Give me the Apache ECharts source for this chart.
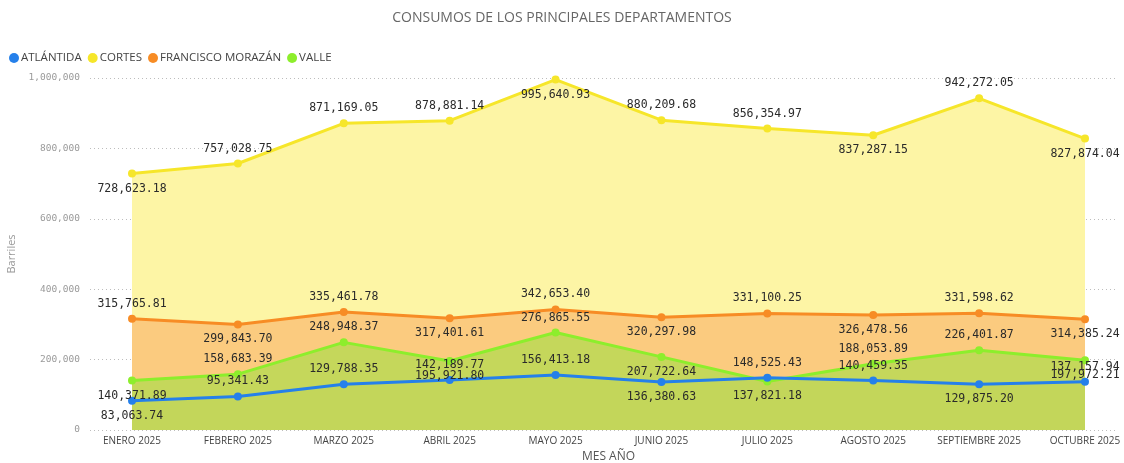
<!DOCTYPE html>
<html>
<head>
<meta charset="utf-8">
<script src="https://cdn.jsdelivr.net/npm/echarts@6/dist/echarts.min.js"></script>
<style>html,body{margin:0;padding:0;background:#fff;}#c{width:1124px;height:463px;}</style>
</head>
<body>
<div id="c"></div>
<script>
const months = ["ENERO 2025","FEBRERO 2025","MARZO 2025","ABRIL 2025","MAYO 2025","JUNIO 2025","JULIO 2025","AGOSTO 2025","SEPTIEMBRE 2025","OCTUBRE 2025"];
const atlantida = [83063.74, 95341.43, 129788.35, 142189.77, 156413.18, 136380.63, 148525.43, 140459.35, 129875.20, 137157.94];
const cortes = [728623.18, 757028.75, 871169.05, 878881.14, 995640.93, 880209.68, 856354.97, 837287.15, 942272.05, 827874.04];
const morazan = [315765.81, 299843.70, 335461.78, 317401.61, 342653.40, 320297.98, 331100.25, 326478.56, 331598.62, 314385.24];
const valle = [140371.89, 158683.39, 248948.37, 195921.80, 276865.55, 207722.64, 137821.18, 188053.89, 226401.87, 197972.21];
const yTicks = [0, 200000, 400000, 600000, 800000, 1000000];

// label placement (above / below point)
const posAtlantida = ["bottom","top","top","top","top","bottom","top","top","bottom","top"];
const posCortes = ["bottom","top","top","top","bottom","top","top","bottom","top","bottom"];
const posMorazan = ["top","bottom","top","bottom","top","bottom","top","bottom","top","bottom"];
const posValle = ["bottom","top","top","bottom","top","bottom","bottom","top","top","bottom"];

const names = ["ATLÁNTIDA","CORTES","FRANCISCO MORAZÁN","VALLE"];
const lineColors = {"ATLÁNTIDA":"#2580EA","CORTES":"#F6E62A","FRANCISCO MORAZÁN":"#F78C25","VALLE":"#8DEE2C"};
const fillColors = {"ATLÁNTIDA":"#C3D65A","CORTES":"#FDF5A5","FRANCISCO MORAZÁN":"#FBCB7F","VALLE":"#C5D75B"};

const fmt = v => v.toLocaleString('en-US',{minimumFractionDigits:2, maximumFractionDigits:2});

function areaSeries(name, vals){
  return {
    name: name, type:'line', xAxisIndex:1, yAxisIndex:1, data: vals,
    symbol:'none', silent:true, z:1,
    itemStyle:{color:lineColors[name]},
    lineStyle:{width:0, opacity:0},
    areaStyle:{color:fillColors[name], opacity:1},
    label:{show:false}, emphasis:{disabled:true}
  };
}
function lineSeries(name, vals, pos){
  return {
    name: name, type:'line', xAxisIndex:1, yAxisIndex:1, z:3,
    data: vals.map((v,i)=>({value:v, label:{position:pos[i]}})),
    symbol:'circle', symbolSize:8, showSymbol:true,
    itemStyle:{color:lineColors[name]},
    lineStyle:{width:3, color:lineColors[name]},
    label:{show:true, formatter:p=>fmt(p.value), fontFamily:'DejaVu Sans Mono', fontSize:11.5, color:'#2a2a2a', distance:5},
    emphasis:{disabled:true}
  };
}

const chart = echarts.init(document.getElementById('c'), null, {renderer:'canvas'});
chart.setOption({
  animation:false,
  backgroundColor:'#ffffff',
  title:{text:'CONSUMOS DE LOS PRINCIPALES DEPARTAMENTOS', left:'center', top:6,
    textStyle:{fontFamily:'Open Sans', fontSize:14, fontWeight:'normal', color:'#666'}},
  legend:{data:names, left:4, top:47, icon:'circle', itemWidth:10, itemHeight:10, itemGap:6,
    textStyle:{fontFamily:'Open Sans', fontSize:11.5, color:'#444', padding:[0,0,0,-3]}},
  grid:[
    {left:90, right:6, top:78, bottom:33, containLabel:false, outerBoundsMode:'none'},
    {left:132, right:39, top:78, bottom:33, containLabel:false, outerBoundsMode:'none'}
  ],
  xAxis:[
    {type:'value', gridIndex:0, show:false, min:0, max:1},
    {type:'category', gridIndex:1, data:months, boundaryGap:false,
      axisLine:{show:false}, axisTick:{show:false},
      axisLabel:{fontFamily:'Open Sans', fontSize:10, color:'#444', margin:6, interval:0},
      name:'MES AÑO', nameLocation:'middle', nameGap:20,
      nameTextStyle:{fontFamily:'Open Sans', fontSize:12, color:'#555'},
      splitLine:{show:false}}
  ],
  yAxis:[
    {type:'value', gridIndex:0, min:yTicks[0], max:yTicks[yTicks.length-1], interval:200000,
      axisLine:{show:false}, axisTick:{show:false},
      axisLabel:{fontFamily:'DejaVu Sans Mono', fontSize:9.5, color:'#9a9a9a', margin:10,
        formatter:v=>v.toLocaleString('en-US')},
      splitLine:{show:true, lineStyle:{type:[1,3], color:'#bdbdbd', width:1}},
      name:'Barriles', nameLocation:'middle', nameGap:72, nameRotate:90,
      nameTextStyle:{fontFamily:'Open Sans', fontSize:11, color:'#999'}},
    {type:'value', gridIndex:1, min:yTicks[0], max:yTicks[yTicks.length-1], interval:200000, show:false,
      splitLine:{show:false}}
  ],
  series:[
    areaSeries("CORTES", cortes),
    areaSeries("FRANCISCO MORAZÁN", morazan),
    areaSeries("VALLE", valle),
    areaSeries("ATLÁNTIDA", atlantida),
    lineSeries("CORTES", cortes, posCortes),
    lineSeries("FRANCISCO MORAZÁN", morazan, posMorazan),
    lineSeries("VALLE", valle, posValle),
    lineSeries("ATLÁNTIDA", atlantida, posAtlantida)
  ]
});
</script>
</body>
</html>
